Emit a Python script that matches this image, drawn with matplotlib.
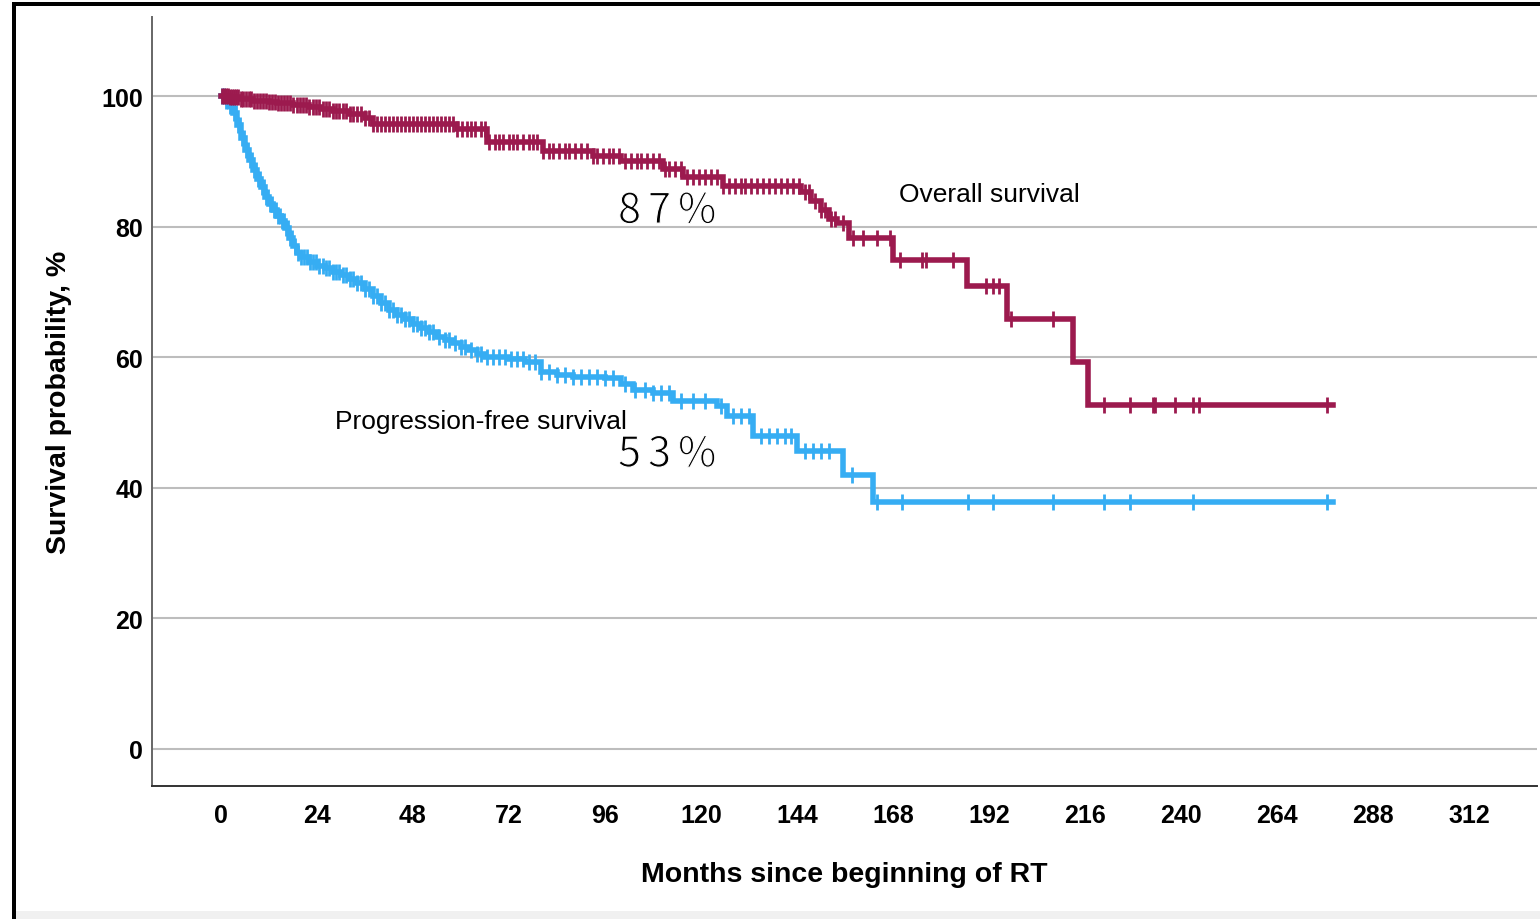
import numpy as np
import matplotlib as mpl
import matplotlib.pyplot as plt
from matplotlib.patches import Rectangle
import matplotlib.patheffects as pe

mpl.rcParams['font.family'] = ['Liberation Sans', 'DejaVu Sans']

# Kaplan-Meier step knots (months, % surviving)
os_t = [0, 2, 5, 8, 12, 14, 18, 22, 25, 28, 32, 36, 38, 59, 66.5, 80.5, 93, 100,
        110.5, 115.5, 125.5, 145, 147.5, 150, 152, 154, 157, 168, 186.5, 196.5,
        213, 216.75]
os_s = [100, 99.8, 99.5, 99.3, 99.1, 98.9, 98.6, 98.25, 98.0, 97.75, 97.2, 96.7,
        95.7, 94.9, 93.0, 91.6, 90.8, 90.0, 88.8, 87.6, 86.2, 85.3, 84.0, 82.5,
        81.2, 80.6, 78.2, 74.9, 70.9, 65.8, 59.2, 52.7]
os_cens = [0.3, 0.8, 1.3, 1.8, 2.3, 2.8, 3.3, 3.8, 4.3, 5, 5.6, 6.2, 7, 7.6, 8.3,
           9, 9.8, 10.5, 11.2, 12, 12.8, 13.5, 14.2, 15, 15.8, 16.5, 17.3, 18,
           19, 19.8, 20.5, 21.3, 22, 23, 23.8, 24.6, 25.5, 26.3, 27, 28, 28.8,
           29.6, 30.5, 31.3, 32.2, 33, 34, 35, 36, 37, 38, 39, 40, 41, 42, 43,
           44, 45, 46, 47, 48, 49, 50, 51, 52, 53, 54, 55, 56, 57, 58, 59, 60.2,
           61.5, 62.5, 63.5, 65, 66, 67, 68.5, 69.5, 70.5, 72, 73, 74, 75.5, 77,
           78, 79, 80.5, 82, 83, 84.5, 86, 87, 88.5, 90, 91.5, 93, 94, 95.5, 97,
           98, 99.5, 101, 102.5, 104, 105, 106.5, 108, 109.5, 111, 112, 113.5,
           115, 116.5, 118, 119.5, 121, 122.5, 124, 125.5, 127, 128.5, 130, 131,
           132.5, 134, 135.5, 137, 138.5, 140, 141.5, 143, 144.5, 146, 147, 148.5,
           150, 151, 152.5, 153.5, 155.5, 158, 160.5, 164, 167.25, 169.75, 175.25,
           176.25, 183, 191.25, 193, 194.5, 197.5, 208, 220.75, 227.25, 233,
           233.5, 238.5, 243, 244.5, 276.5]

pfs_t = [0, 1, 2, 3, 4, 5, 6, 7, 8, 9, 10, 11, 12, 13, 14, 15, 16, 17, 18, 19, 20,
         22, 24, 26, 28, 30, 32, 34, 36, 38, 40, 42, 44, 46, 48, 50, 52, 54, 56,
         58, 60, 62, 64, 66, 68, 72, 76, 80, 84, 88, 96, 100, 103, 108, 113, 124,
         126.5, 133, 144, 155.5, 163]
pfs_s = [100, 99.3, 98.5, 97.4, 95.6, 93.5, 91.8, 90.2, 88.6, 87.3, 86.0, 84.6,
         83.4, 82.5, 81.6, 80.9, 79.8, 78.3, 77.0, 76.0, 75.4, 74.6, 74.0, 73.6,
         73.0, 72.6, 72.0, 71.4, 70.4, 69.4, 68.3, 67.3, 66.5, 65.8, 65.1, 64.5,
         63.8, 63.1, 62.6, 62.1, 61.6, 61.1, 60.5, 60.1, 60.0, 59.8, 59.3, 57.7,
         57.3, 57.0, 56.8, 55.9, 55.0, 54.5, 53.3, 52.5, 51.0, 47.9, 45.6, 42.0,
         37.8]
pfs_cens = [0.3, 0.8, 1.3, 1.8, 2.3, 2.8, 3.3, 3.8, 4.3, 4.8, 5.3, 5.8, 6.3, 6.8,
            7.3, 7.8, 8.3, 8.8, 9.3, 9.8, 10.3, 10.8, 11.3, 11.8, 12.3, 12.8,
            13.3, 13.8, 14.3, 14.8, 15.3, 15.8, 16.3, 16.8, 17.3, 17.8, 18.5,
            19.2, 20, 20.8, 21.5, 22.3, 23, 23.8, 24.6, 25.5, 26.3, 27, 28, 28.8,
            29.6, 30.5, 31.3, 32.2, 33, 34, 35, 36, 37, 38, 39, 40, 41, 42, 43,
            44, 45, 46, 47, 48, 49, 50, 51, 52, 53, 54.5, 56, 57, 58.5, 60, 61,
            62.5, 64, 65, 66.5, 68, 69.5, 71, 72.5, 74, 75.5, 77, 78.5, 80, 82,
            84, 86, 88, 90, 92, 94, 96, 98, 101, 103.5, 106, 108, 110, 112, 115,
            118, 121, 125, 128, 130, 132, 135, 137, 139, 141, 142.5, 146, 148,
            150, 152, 157.75, 164, 170.25, 186.75, 193, 208, 220.75, 227.25, 243,
            276.5]

follow_end = 278
x_ticks = [0, 24, 48, 72, 96, 120, 144, 168, 192, 216, 240, 264, 288, 312]
y_ticks = [0, 20, 40, 60, 80, 100]

os_color = '#9c1a4e'
pfs_color = '#36adf3'


def km_curve(ax, t, s, cens, color, z):
    tt = np.append(t, follow_end)
    ss = np.append(s, s[-1])
    ax.step(tt, ss, where='post', color=color, lw=4.0, zorder=z,
            solid_joinstyle='miter')
    idx = np.searchsorted(t, cens, side='right') - 1
    ax.plot(cens, np.asarray(s)[idx], ls='none', marker='|', ms=11, mew=2.0,
            color=color, zorder=z)


def spaced_label(ax, x0, y, text, pitch=7.5):
    # big light-weight percentages, drawn one glyph at a time (wide tracking)
    thin = [pe.Stroke(linewidth=0.8, foreground='w')]
    for i, ch in enumerate(text):
        ax.text(x0 + i * pitch, y, ch, fontsize=30, ha='left', va='center',
                family=['Noto Sans CJK SC', 'DejaVu Sans'], path_effects=thin)


fig = plt.figure(figsize=(15.4, 9.2), dpi=100, facecolor='w')
ax = fig.add_axes([0.0987, 0.1446, 0.8993, 0.8358])

for y in y_ticks:
    ax.axhline(y, color='#bdbdbd', lw=1.5, zorder=1)

km_curve(ax, pfs_t, pfs_s, pfs_cens, pfs_color, 3)
km_curve(ax, os_t, os_s, os_cens, os_color, 4)

ax.set_xlim(-17.25, 329)
ax.set_ylim(-5.67, 112.1)
ax.set_xticks(x_ticks)
ax.set_yticks(y_ticks)
ax.tick_params(axis='x', length=0, pad=12, labelsize=18)
ax.tick_params(axis='y', length=0, pad=6.5, labelsize=18)
for lab in ax.get_xticklabels() + ax.get_yticklabels():
    lab.set_fontweight('bold')

for side in ['top', 'right']:
    ax.spines[side].set_visible(False)
ax.spines['left'].set_color('#666666')
ax.spines['left'].set_linewidth(1.4)
ax.spines['bottom'].set_color('#333333')
ax.spines['bottom'].set_linewidth(1.4)

ax.set_xlabel('Months since beginning of RT', fontsize=20.5, fontweight='bold')
ax.xaxis.set_label_coords(0.5, -0.097)
ax.set_ylabel('Survival probability, %', fontsize=20.5, fontweight='bold')
ax.yaxis.set_label_coords(-0.058, 0.5)

ax.text(169.5, 85, 'Overall survival', fontsize=19, ha='left', va='center')
ax.text(28.5, 50.2, 'Progression-free survival', fontsize=19, ha='left',
        va='center')
spaced_label(ax, 99.25, 82.3, '87%')
spaced_label(ax, 99.25, 45.0, '53%')

# frame of the original screenshot
fig.add_artist(Rectangle((0.0078, 0.9925), 0.9922, 0.0045, transform=fig.transFigure,
                         color='black', lw=0))
fig.add_artist(Rectangle((0.0078, 0.0), 0.0028, 0.997, transform=fig.transFigure,
                         color='black', lw=0))
fig.add_artist(Rectangle((0.0106, 0.0), 0.9894, 0.009, transform=fig.transFigure,
                         color='#f0f0f0', lw=0))

fig.savefig('out.png', dpi=100, facecolor='w')
